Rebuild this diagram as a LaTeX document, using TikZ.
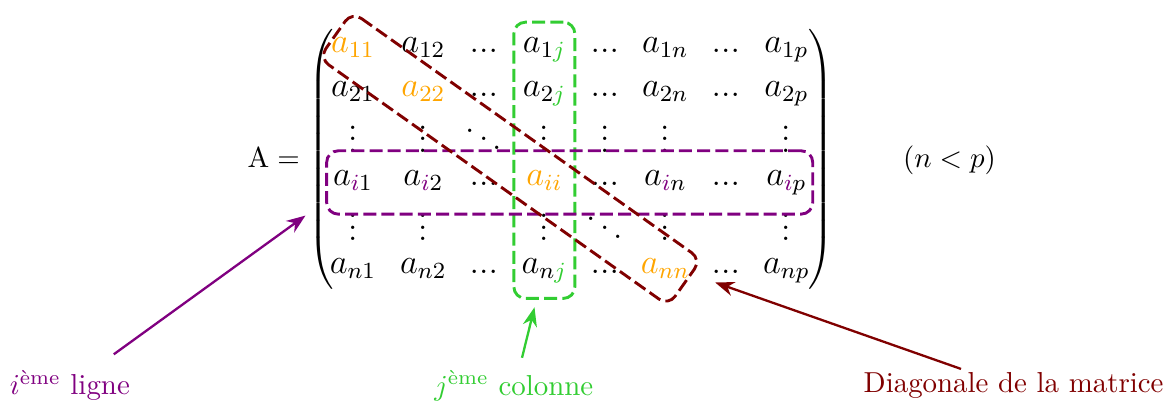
\documentclass[tikz,border=0pt]{standalone}
\usepackage{amsmath}
\usepackage{xcolor}
\usepackage{tikz}
\usetikzlibrary{matrix,fit,calc,arrows.meta,positioning}

\definecolor{diagorange}{RGB}{255,165,0}
\definecolor{colgreen}{RGB}{50,205,50}
\definecolor{rowpurple}{RGB}{128,0,128}
\definecolor{diagred}{RGB}{128,0,0}

\newcommand{\dg}[1]{\textcolor{diagorange}{#1}}
\newcommand{\ci}{\textcolor{rowpurple}{i}}
\newcommand{\cj}{\textcolor{colgreen}{j}}

\begin{document}
\begin{tikzpicture}[
  every left delimiter/.style={xshift=4.8pt},
  every right delimiter/.style={xshift=-3.8pt},
  mat/.style={matrix of math nodes,inner sep=0pt,nodes={font=\large,inner sep=2pt},
    row sep={0.539cm,between origins},column sep={0.736cm,between origins}},
  dts/.style={yshift=-4pt},
  hbox/.style={draw,line width=1pt,dash pattern=on 4.5pt off 1.8pt,rounded corners=4pt},
  arr/.style={-{Stealth},thick},
]
\useasboundingbox (0,0) rectangle (14.22,-4.88);

\matrix[mat,left delimiter=(,right delimiter=)] (m) at (6.93,-1.95) {
  \dg{a_{11}} &[0.12cm] a_{12} & ... & a_{1\cj} & ... & a_{1n} & ... & a_{1p}\\
  a_{21} & \dg{a_{22}} & ... & a_{2\cj} & ... & a_{2n} & ... & a_{2p}\\
  |[dts]| \vdots & |[dts]| \vdots & |[dts]| \ddots & |[dts]| \vdots & |[dts]| \vdots & |[dts]| \vdots & & |[dts]| \vdots\\
  a_{\ci 1} & a_{\ci 2} & ... & \dg{a_{ii}} & ... & a_{\ci n} & ... & a_{\ci p}\\
  |[dts]| \vdots & |[dts]| \vdots & & |[dts]| \vdots & |[dts]| \ddots & |[dts]| \vdots & & |[dts]| \vdots\\
  a_{n1} & a_{n2} & ... & a_{n\cj} & ... & \dg{a_{nn}} & ... & a_{np}\\
};
\node (A) at (3.33,-1.92) {$\mathrm{A} =$};
\node (np) at (11.55,-1.95) {$(n<p)$};

% colonne j et ligne i
\node[hbox,colgreen,inner xsep=0.5pt,inner ysep=3pt,fit=(m-1-4)(m-6-4)] (col) {};
\node[hbox,rowpurple,inner xsep=0pt,inner ysep=4.5pt,fit=(m-4-1)(m-4-8)] (row) {};

% diagonale
\coordinate (d1) at ($(m-1-1)!-0.26cm!(m-6-6)$);
\coordinate (d2) at ($(m-6-6)!-0.29cm!(m-1-1)$);
\coordinate (dr) at ($(d2)!0.345cm!-90:(d1)$);
\draw[hbox,diagred] ($(d1)!0.345cm!90:(d2)$) -- (dr)
  -- ($(d2)!0.345cm!90:(d1)$) -- ($(d1)!0.345cm!-90:(d2)$) -- cycle;

\node[rowpurple] (lig) at (0.85,-4.69) {$i^{\text{ème}}$ ligne};
\node[colgreen]  (colo) at (6.25,-4.69) {$j^{\text{ème}}$ colonne};
\node[diagred]   (diag) at (12.33,-4.69) {Diagonale de la matrice};

\draw[arr,rowpurple] ([xshift=-3.2mm,yshift=0.7mm]lig.north east) -- ([xshift=-2.4mm]row.south west);
\draw[arr,colgreen] ([xshift=1mm,yshift=0.3mm]colo.north) -- ([xshift=-1.2mm,yshift=-0.9mm]col.south);
\draw[arr,diagred] ([xshift=-6.4mm,yshift=-0.8mm]diag.north) -- ([shift={(0.17cm,-0.28cm)}]dr);
\end{tikzpicture}
\end{document}
